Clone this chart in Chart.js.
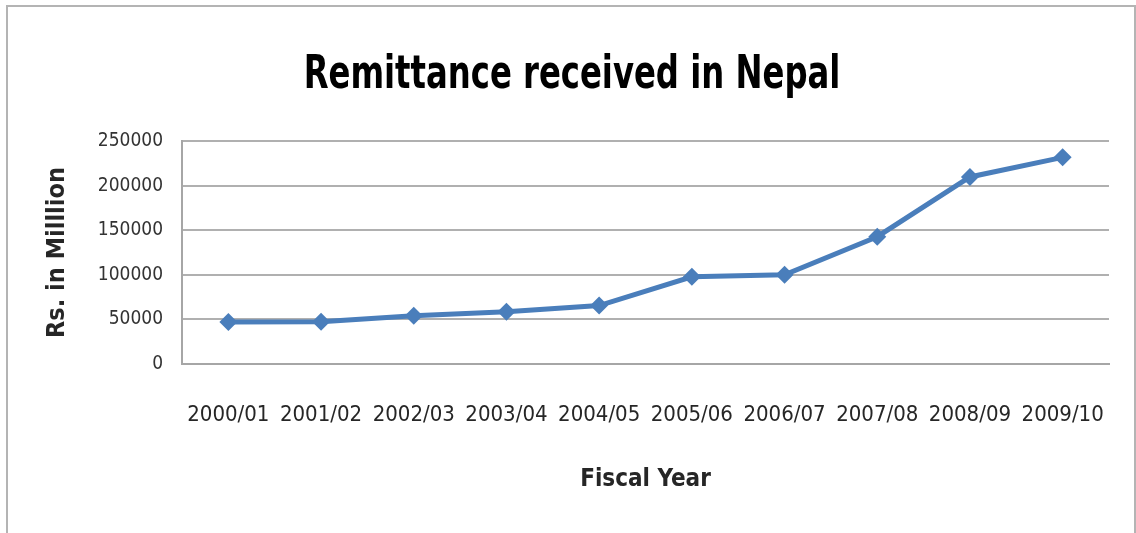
<!DOCTYPE html>
<html lang="en">
<head>
    <meta charset="UTF-8">
    <title>Remittance received in Nepal</title>
    <script src="https://cdn.jsdelivr.net/npm/chart.js"></script>
    <style>
        html, body {
            margin: 0;
            padding: 0;
            background: #ffffff;
            overflow: hidden;
        }
        .frame {
            position: absolute;
            left: 6px;
            top: 5px;
            width: 1126px;
            height: 560px;
            border: 2px solid #b4b4b4;
            border-bottom: none;
            pointer-events: none;
        }
        .chart-box {
            position: absolute;
            left: 0;
            top: 0;
            width: 1136px;
            height: 533px;
        }
    </style>
</head>
<body>
    <div class="chart-box"><canvas id="chart"></canvas></div>
    <div class="frame"></div>

    <script>
        // data (Rs. in million)
        const fiscalYears = ['2000/01', '2001/02', '2002/03', '2003/04', '2004/05',
                             '2005/06', '2006/07', '2007/08', '2008/09', '2009/10'];
        const remittance = [47200, 47500, 54200, 58600, 65500,
                            97700, 100100, 142700, 209700, 231700];
        const yTicks = [0, 50000, 100000, 150000, 200000, 250000];
        const chartTitle = 'Remittance received in Nepal';

        const FONT = "'DejaVu Sans Condensed', 'Liberation Sans Narrow', sans-serif";
        const BLUE = '#4a7ebb';

        // the original title is a tall, narrow face, so draw it squeezed a bit
        const narrowTitle = {
            id: 'narrowTitle',
            afterDraw(chart) {
                const ctx = chart.ctx;
                ctx.save();
                ctx.translate(572, 88);
                ctx.scale(0.78, 1);
                ctx.font = "bold 46px " + FONT;
                ctx.fillStyle = '#000000';
                ctx.textAlign = 'center';
                ctx.textBaseline = 'alphabetic';
                ctx.fillText(chartTitle, 0, 0);
                ctx.restore();
            }
        };

        new Chart(document.getElementById('chart'), {
            type: 'line',
            data: {
                labels: fiscalYears,
                datasets: [{
                    label: 'Remittance',
                    data: remittance,
                    borderColor: BLUE,
                    backgroundColor: BLUE,
                    borderWidth: 5,
                    pointStyle: 'rectRot',
                    pointRadius: 9,
                    pointBorderWidth: 0,
                    tension: 0
                }]
            },
            plugins: [narrowTitle],
            options: {
                responsive: true,
                maintainAspectRatio: false,
                animation: false,
                layout: {
                    padding: { left: 38, right: 27, top: 141, bottom: 0 }
                },
                plugins: {
                    legend: { display: false },
                    tooltip: { enabled: false },
                    title: { display: false }
                },
                scales: {
                    x: {
                        offset: true,
                        grid: { display: false, drawTicks: false },
                        border: { display: true, color: '#a6a6a6', width: 2 },
                        ticks: {
                            color: '#262626',
                            font: { family: FONT, size: 22 },
                            padding: 38,
                            maxRotation: 0,
                            autoSkip: false
                        },
                        title: {
                            display: true,
                            text: 'Fiscal Year',
                            color: '#262626',
                            font: { family: FONT, size: 24, weight: 'bold' },
                            padding: { top: 4, bottom: 39 }
                        },
                        afterFit: (scale) => {
                            scale.height = 169;
                            scale.paddingLeft = 0;
                            scale.paddingRight = 0;
                        }
                    },
                    y: {
                        min: 0,
                        max: 250000,
                        grid: { color: '#b0b0b0', lineWidth: 2, drawTicks: false },
                        border: { display: true, color: '#a6a6a6', width: 2 },
                        afterBuildTicks: (scale) => {
                            scale.ticks = yTicks.map(v => ({ value: v }));
                        },
                        ticks: {
                            color: '#333333',
                            font: { family: FONT, size: 19 },
                            padding: 19,
                            callback: (v) => String(v)
                        },
                        title: {
                            display: true,
                            text: 'Rs. in Milllion',
                            color: '#262626',
                            font: { family: FONT, size: 25, weight: 'bold' },
                            padding: { top: 4, bottom: 4 }
                        },
                        afterFit: (scale) => {
                            scale.width = 144;
                            scale.paddingTop = 0;
                            scale.paddingBottom = 0;
                        }
                    }
                }
            }
        });
    </script>
</body>
</html>
